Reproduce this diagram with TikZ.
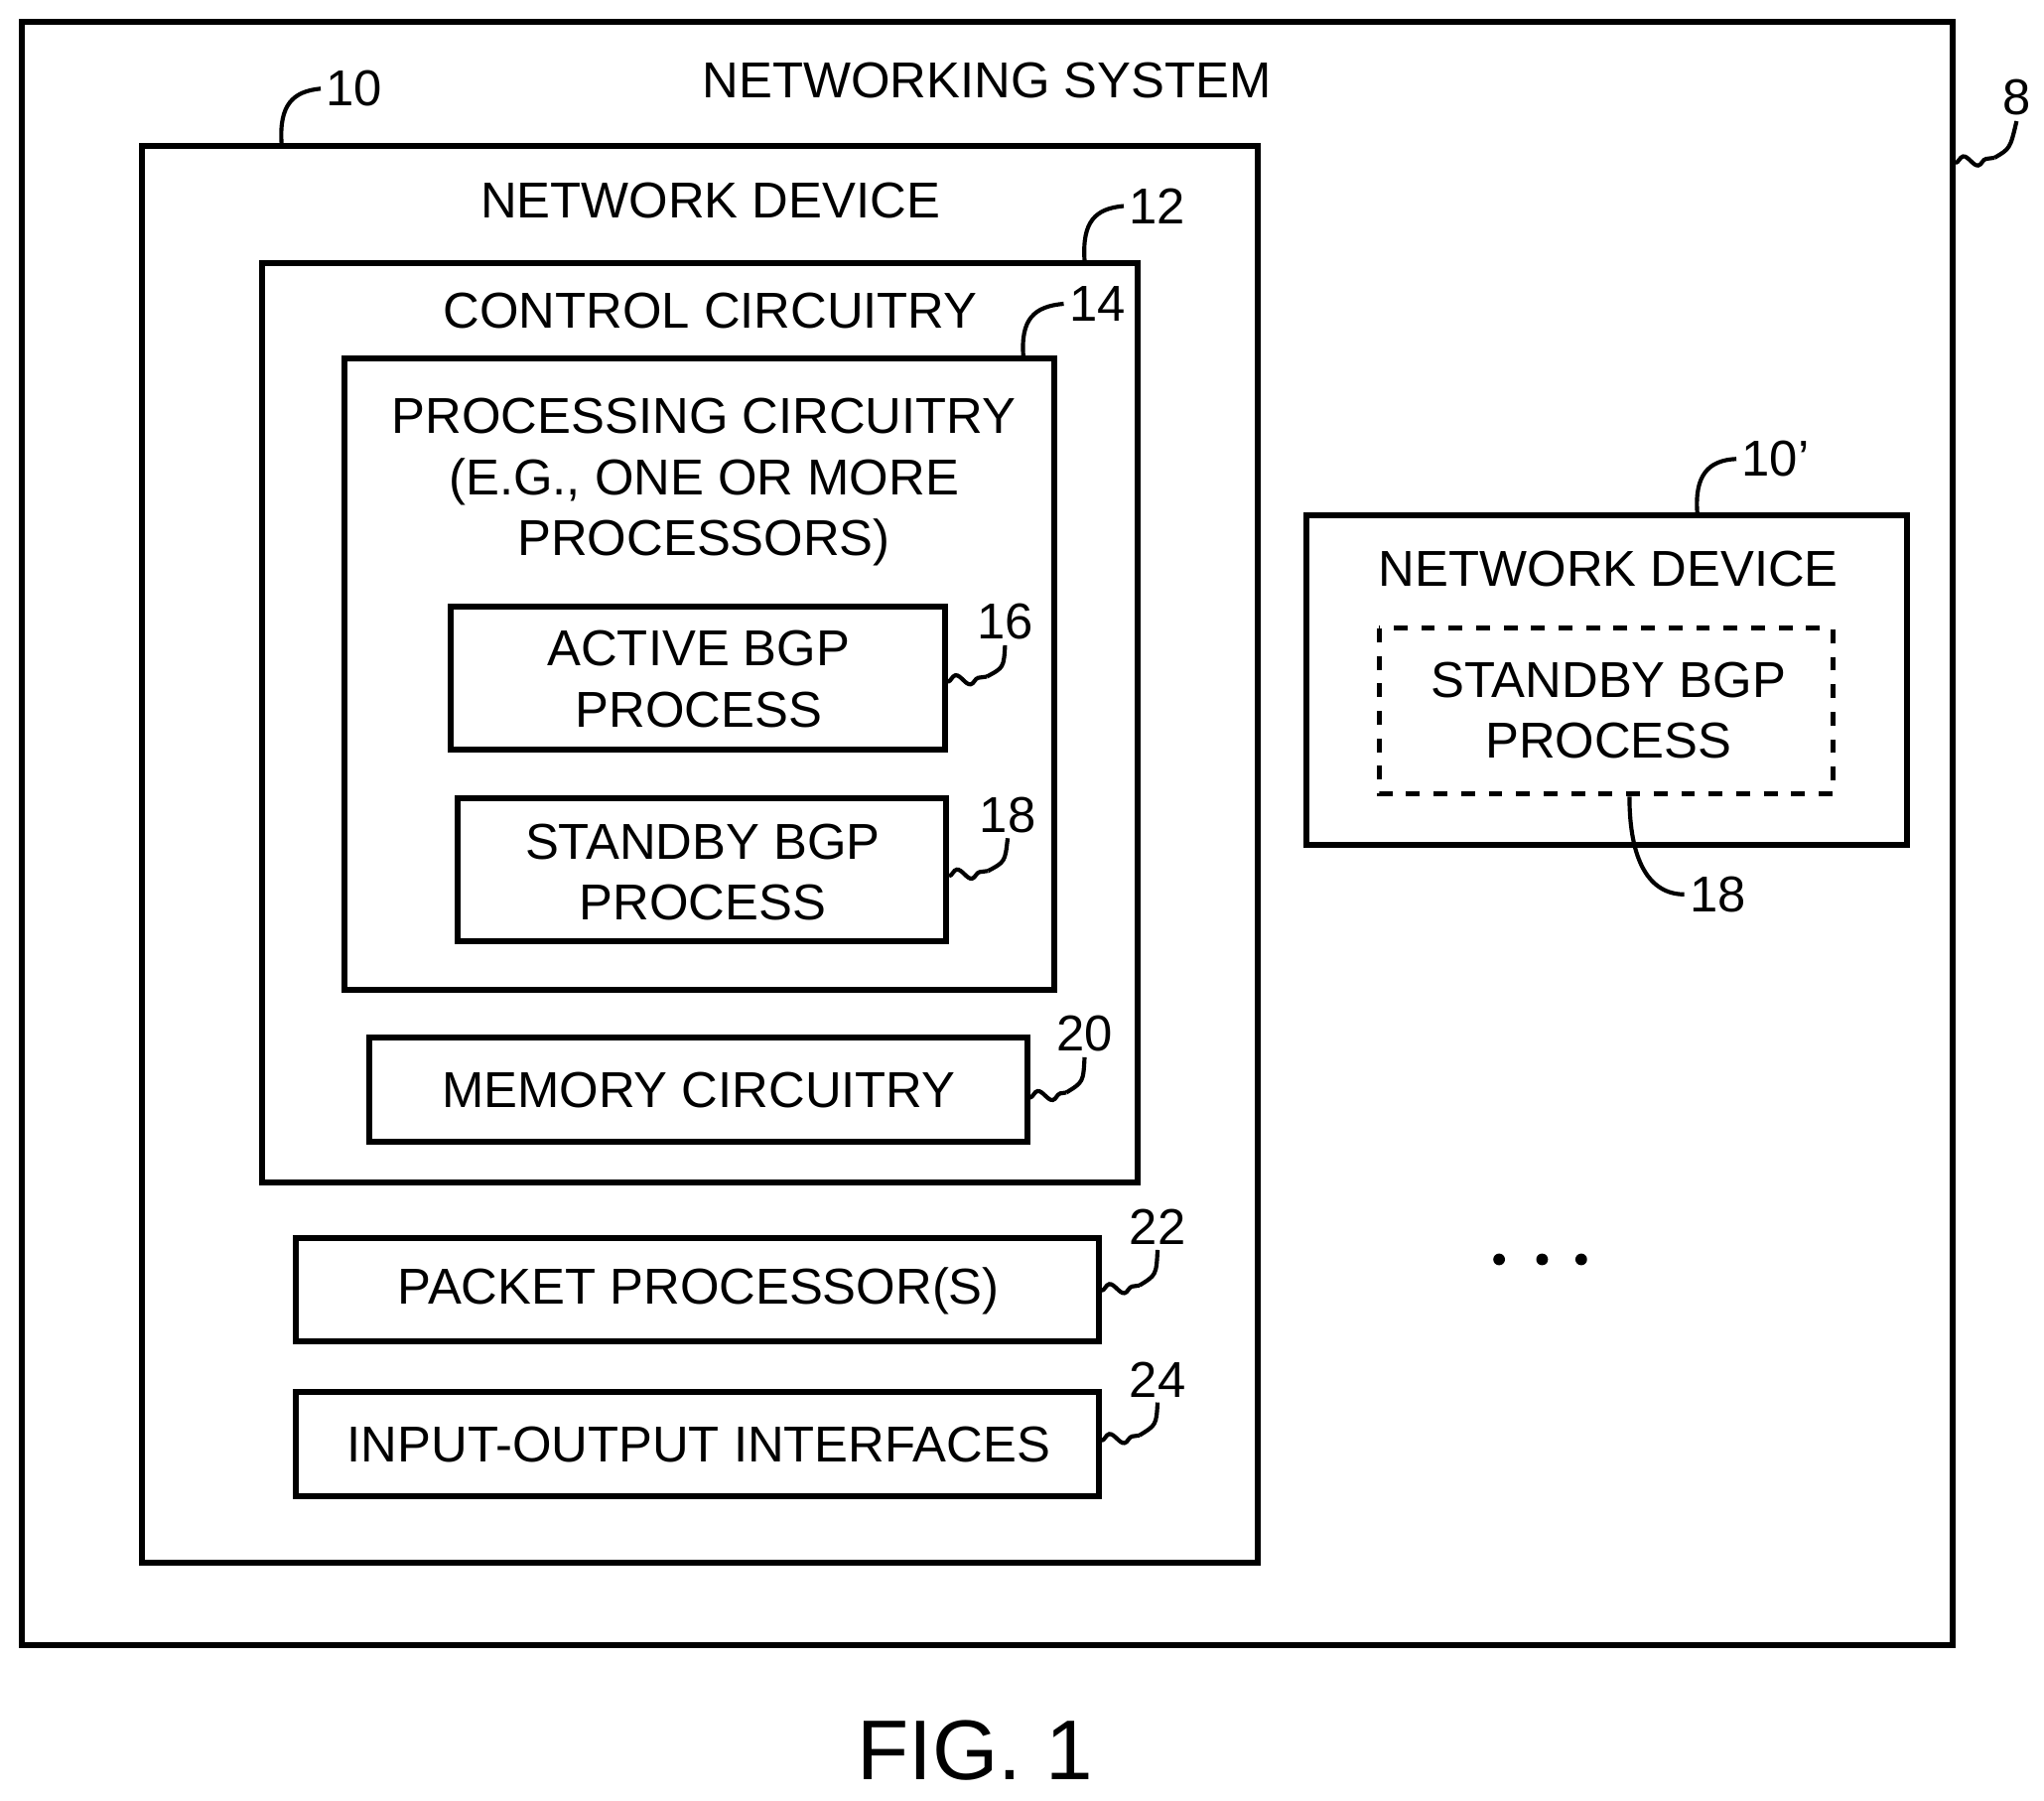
\documentclass[tikz,border=0pt]{standalone}
\usepackage{fontspec}
\setmainfont{Liberation Sans}
\usetikzlibrary{decorations.pathmorphing}
\begin{document}
\begin{tikzpicture}[x=0.01cm,y=-0.01cm,
 box/.style={draw,line width=1.3pt},
 t/.style={font=\fontsize{11}{13.3}\selectfont,align=center,inner sep=0},
 num/.style={font=\fontsize{11}{13}\selectfont,inner sep=1pt},
 lead/.style={line width=0.9pt},
 wig/.style={lead,decorate,decoration={snake,amplitude=1.2pt,segment length=6pt}}]
\useasboundingbox (0,0) rectangle (1568,1381);
\draw[box] (17,17) rectangle (1498,1262);
\node[t] (tsys) at (757,62) {NETWORKING SYSTEM};
\draw[box] (109,112) rectangle (965,1199);
\node[t] (tdev) at (545,154) {NETWORK DEVICE};
\draw[box] (201,202) rectangle (873,907);
\node[t] (tcc) at (545,238) {CONTROL CIRCUITRY};
\draw[box] (264,275) rectangle (809,759);
\node[t] (tpc) at (540,370) {PROCESSING CIRCUITRY\\(E.G., ONE OR MORE\\PROCESSORS)};
\draw[box] (346,465) rectangle (725,575);
\node[t] (ta) at (536,521) {ACTIVE BGP\\PROCESS};
\draw[box] (351,612) rectangle (726,722);
\node[t] (ts) at (539,669) {STANDBY BGP\\PROCESS};
\draw[box] (283,796) rectangle (788,876);
\node[t] (tm) at (536,836) {MEMORY CIRCUITRY};
\draw[box] (227,950) rectangle (843,1029);
\node[t] (tp) at (536,990) {PACKET PROCESSOR(S)};
\draw[box] (227,1068) rectangle (843,1148);
\node[t] (ti) at (536,1108) {INPUT-OUTPUT INTERFACES};
\draw[box] (1002,395) rectangle (1463,648);
\node[t] (td2) at (1234,436) {NETWORK DEVICE};
\draw[box,dashed,line width=1.1pt] (1058,482) rectangle (1406,609);
\node[t] (ts2) at (1234,545) {STANDBY BGP\\PROCESS};
\foreach \x/\n in {1150/d1,1183/d2,1213/d3} \fill (\x,966) circle (4.5) coordinate (\n);
\node[font=\fontsize{18.5}{22}\selectfont,inner sep=0] (fig) at (748,1343) {FIG. 1};
% reference numerals
\node[num,anchor=west] (n8) at (1532,75) {8};
\node[num,anchor=west] (n10) at (246,68) {10};
\node[num,anchor=west] (n12) at (862,158) {12};
\node[num,anchor=west] (n14) at (816,233) {14};
\node[num] (n16) at (771,477) {16};
\node[num] (n18) at (773,625) {18};
\node[num] (n20) at (832,793) {20};
\node[num] (n22) at (888,941) {22};
\node[num] (n24) at (888,1058) {24};
\node[num,anchor=west] (n10p) at (1332,352) {10'};
\node[num,anchor=west] (n18b) at (1292,686) {18};
% leaders
\draw[wig] (1500,125) -- (1530,121);
\draw[lead] (1530,121) .. controls (1542,114) .. (n8.south);
\draw[lead] (216,110) .. controls (214,80) and (225,70) .. (n10.west);
\draw[lead] (832,200) .. controls (830,170) and (840,160) .. (n12.west);
\draw[lead] (785,273) .. controls (783,245) and (793,235) .. (n14.west);
\draw[lead] (1302,393) .. controls (1300,365) and (1310,353) .. (n10p.west);
\draw[lead] (1250,611) .. controls (1250,660) and (1265,686) .. (n18b.west);
\draw[wig] (727,523) -- (757,519); \draw[lead] (757,519) .. controls (770,512) .. (n16.south);
\draw[wig] (728,672) -- (758,668); \draw[lead] (758,668) .. controls (771,661) .. (n18.south);
\draw[wig] (790,842) -- (818,838); \draw[lead] (818,838) .. controls (831,830) .. (n20.south);
\draw[wig] (845,990) -- (874,986); \draw[lead] (874,986) .. controls (887,978) .. (n22.south);
\draw[wig] (845,1105) -- (874,1101); \draw[lead] (874,1101) .. controls (887,1093) .. (n24.south);
\end{tikzpicture}
\end{document}
